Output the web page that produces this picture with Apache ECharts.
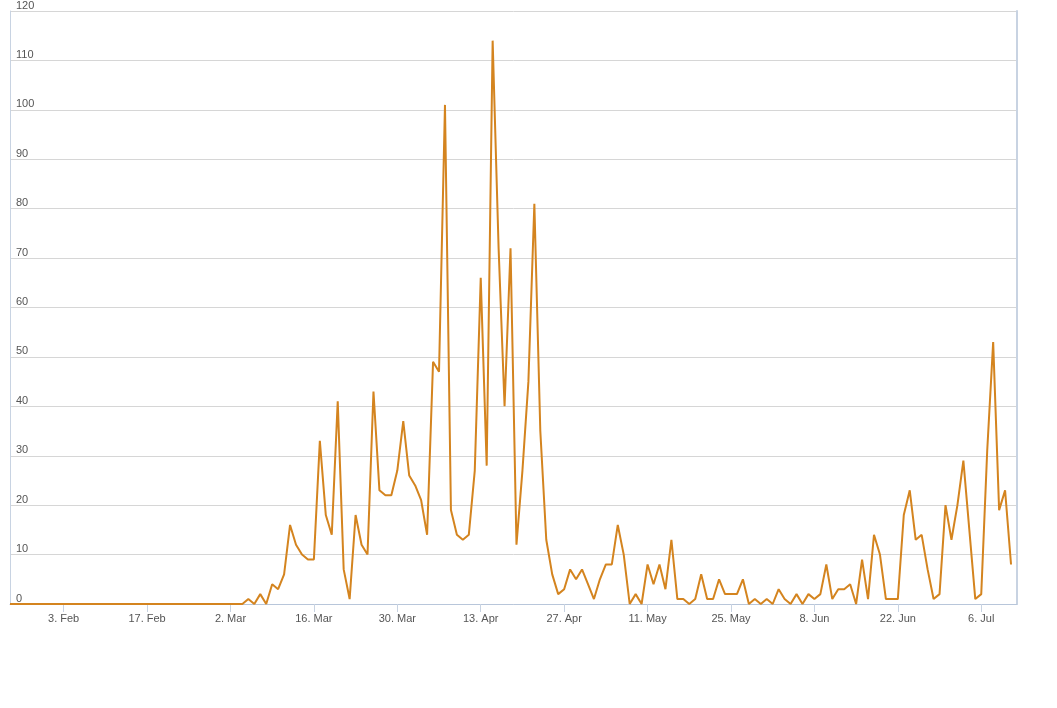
<!DOCTYPE HTML>
<html>
<head>
    <meta charset="utf-8">
    <title>Daily chart</title>
    <style>
        html, body { margin: 0; padding: 0; background: #fff; }
        #demo { width: 1057px; height: 708px; }
    </style>
</head>
<body>
<div id="demo"></div>
<script type="text/javascript" src="https://cdn.jsdelivr.net/npm/echarts@6/dist/echarts.min.js"></script>
<script type="text/javascript">
    // first day of the series and number of days on the axis
    var startDate = [2020, 0, 25];
    var dayCount = 170;
    var months = ['Jan', 'Feb', 'Mar', 'Apr', 'May', 'Jun', 'Jul', 'Aug', 'Sep', 'Oct', 'Nov', 'Dec'];

    // 40 leading zero days, then the daily values
    var leadingZeros = 40;
    var dailyValues = [
        1, 0, 2, 0, 4, 3, 6, 16, 12, 10, 9, 9, 33, 18, 14, 41, 7, 1, 18, 12,
        10, 43, 23, 22, 22, 27, 37, 26, 24, 21, 14, 49, 47, 101, 19, 14, 13, 14, 27, 66,
        28, 114, 72, 40, 72, 12, 27, 45, 81, 35, 13, 6, 2, 3, 7, 5, 7, 4, 1, 5,
        8, 8, 16, 10, 0, 2, 0, 8, 4, 8, 3, 13, 1, 1, 0, 1, 6, 1, 1, 5,
        2, 2, 2, 5, 0, 1, 0, 1, 0, 3, 1, 0, 2, 0, 2, 1, 2, 8, 1, 3,
        3, 4, 0, 9, 1, 14, 10, 1, 1, 1, 18, 23, 13, 14, 7, 1, 2, 20, 13, 20,
        29, 15, 1, 2, 31, 53, 19, 23, 8
    ];
    var yTicks = [0, 120, 10];  // min, max, interval

    var categories = [];
    for (var i = 0; i < dayCount; i++) {
        var d = new Date(startDate[0], startDate[1], startDate[2] + i);
        categories.push(d.getDate() + '. ' + months[d.getMonth()]);
    }
    var seriesData = [];
    for (var i = 0; i < leadingZeros; i++) seriesData.push(0);
    for (var i = 0; i < dailyValues.length; i++) seriesData.push(dailyValues[i]);
    while (seriesData.length < dayCount) seriesData.push('-');

    // label every 14 days starting at 3. Feb
    function everyTwoWeeks(index) {
        return index % 14 === 9;
    }

    var myChart = echarts.init(document.getElementById('demo'));
    var option = {
        animation: false,
        grid: { left: 10, right: 40, top: 10, bottom: 104 },
        xAxis: {
            type: 'category',
            boundaryGap: false,
            data: categories,
            axisLine: { lineStyle: { color: '#b8c6da', width: 1 } },
            axisTick: { interval: everyTwoWeeks, length: 8, lineStyle: { color: '#c8d3e2' } },
            axisLabel: { interval: everyTwoWeeks, color: '#555', fontSize: 11, margin: 9, fontFamily: 'Liberation Sans' }
        },
        yAxis: [{
            type: 'value',
            min: yTicks[0], max: yTicks[1], interval: yTicks[2],
            axisLine: { show: true, lineStyle: { color: '#c8d3e2' } },
            axisTick: { show: false },
            splitLine: { lineStyle: { color: '#d6d6d6' } },
            axisLabel: {
                inside: true, color: '#555', fontSize: 11, margin: 6,
                verticalAlign: 'bottom', padding: [0, 0, 0, 0], fontFamily: 'Liberation Sans'
            }
        }, {
            type: 'value',
            position: 'right',
            min: yTicks[0], max: yTicks[1], interval: yTicks[2],
            axisLine: { show: true, lineStyle: { color: '#c8d3e2', width: 2 } },
            axisTick: { show: false },
            axisLabel: { show: false },
            splitLine: { show: false }
        }],
        series: [{
            type: 'line',
            data: seriesData,
            showSymbol: false,
            lineStyle: { color: '#d4841f', width: 2 },
            itemStyle: { color: '#d4841f' }
        }]
    };
    myChart.setOption(option);
</script>
</body>
</html>
